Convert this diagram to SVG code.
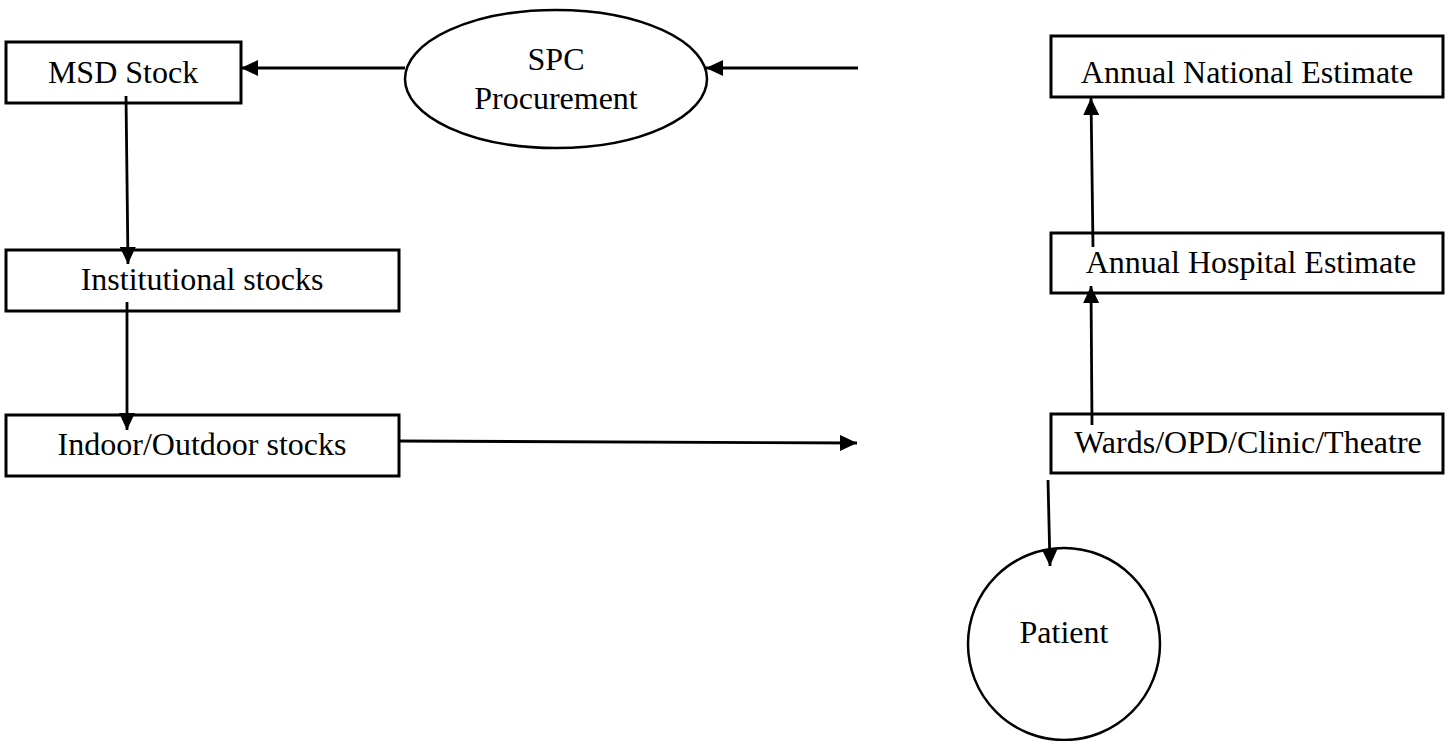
<svg xmlns="http://www.w3.org/2000/svg" width="1448" height="741" viewBox="0 0 1448 741">
  <style>
    .box { fill: #ffffff; stroke: #000000; stroke-width: 3; }
    .shape { fill: #ffffff; stroke: #000000; stroke-width: 2.5; }
    .label { font-family: "Liberation Serif", "Times New Roman", serif; font-size: 32px; fill: #000000; text-anchor: middle; }
    .edge { stroke: #000000; stroke-width: 2.8; fill: none; marker-end: url(#arrow); }
  </style>
  <defs>
    <marker id="arrow" markerUnits="userSpaceOnUse" markerWidth="18" markerHeight="16" refX="17" refY="8" orient="auto">
      <path d="M0,0 L17,8 L0,16 z" fill="#000000"/>
    </marker>
  </defs>
  <rect width="1448" height="741" fill="#ffffff"/>

  <!-- Supply side -->
  <g id="msd-stock">
    <rect class="box" x="6" y="42" width="235" height="61"/>
    <text class="label" x="123" y="83">MSD Stock</text>
  </g>
  <g id="spc-procurement">
    <ellipse class="shape" cx="556" cy="79" rx="151" ry="69"/>
    <text class="label" x="556" y="70">SPC</text>
    <text class="label" x="556" y="109">Procurement</text>
  </g>
  <g id="institutional-stocks">
    <rect class="box" x="6" y="250" width="393" height="61"/>
    <text class="label" x="202" y="290">Institutional stocks</text>
  </g>
  <g id="indoor-outdoor-stocks">
    <rect class="box" x="6" y="415" width="393" height="61"/>
    <text class="label" x="202" y="455">Indoor/Outdoor stocks</text>
  </g>

  <!-- Estimation side -->
  <g id="annual-national-estimate">
    <rect class="box" x="1051" y="36" width="392" height="61"/>
    <text class="label" x="1247" y="83">Annual National Estimate</text>
  </g>
  <g id="annual-hospital-estimate">
    <rect class="box" x="1051" y="233" width="392" height="60"/>
    <text class="label" x="1251" y="273">Annual Hospital Estimate</text>
  </g>
  <g id="wards-opd-clinic-theatre">
    <rect class="box" x="1051" y="414" width="392" height="59"/>
    <text class="label" x="1248" y="453">Wards/OPD/Clinic/Theatre</text>
  </g>
  <g id="patient">
    <circle class="shape" cx="1064" cy="644" r="96"/>
    <text class="label" x="1064" y="643">Patient</text>
  </g>

  <!-- Flows -->
  <g id="connectors">
    <line class="edge" x1="405" y1="68" x2="241" y2="68"/>
    <line class="edge" x1="858" y1="68" x2="706" y2="68"/>
    <line class="edge" x1="126" y1="96" x2="128" y2="264"/>
    <line class="edge" x1="127" y1="302" x2="127" y2="430"/>
    <line class="edge" x1="399" y1="441" x2="857" y2="443"/>
    <line class="edge" x1="1092" y1="425" x2="1091" y2="286"/>
    <line class="edge" x1="1093" y1="247" x2="1091" y2="98"/>
    <line class="edge" x1="1048" y1="480" x2="1050" y2="566"/>
  </g>
</svg>
